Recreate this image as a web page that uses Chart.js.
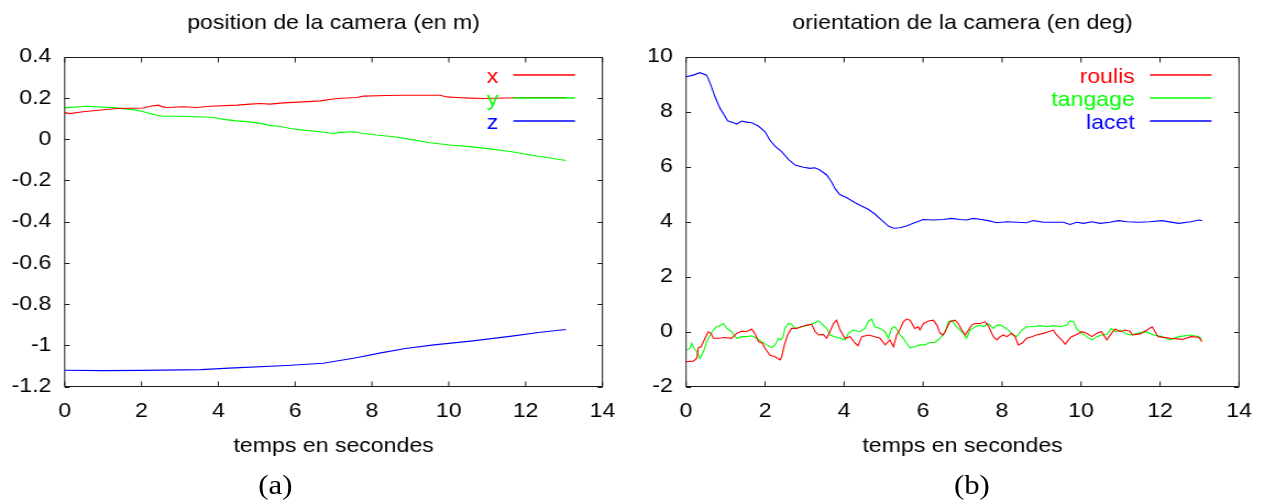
<!DOCTYPE html>
<html>
<head>
<meta charset="utf-8">
<script src="https://cdn.jsdelivr.net/npm/chart.js@4.4.1/dist/chart.umd.min.js"></script>
<style>
  html, body { margin:0; padding:0; background:#fff; overflow:hidden; width:1269px; height:504px; }
  #wrap { position:absolute; left:0; top:0; width:1154px; height:504px; transform:scaleX(1.1); transform-origin:0 0; }
  .box { position:absolute; top:0; height:504px; }
  #boxA { left:0; width:590px; }
  #boxB { left:590px; width:564px; }
  .cap { position:absolute; top:471px; font-family:"Liberation Serif", "Times New Roman", serif; font-size:28px; line-height:28px; color:#000; transform:translateX(-50%); white-space:nowrap; }
</style>
</head>
<body>
<div id="wrap">
  <div class="box" id="boxA"><canvas id="cA"></canvas></div>
  <div class="box" id="boxB"><canvas id="cB"></canvas></div>
  <div class="cap" style="left:250.3px">(a)</div>
  <div class="cap" style="left:883.5px">(b)</div>
</div>
<script>
// ---------- data ----------
const X_TICKS = [0, 2, 4, 6, 8, 10, 12, 14];
const Y_TICKS_A = [-1.2, -1, -0.8, -0.6, -0.4, -0.2, 0, 0.2, 0.4];
const Y_TICKS_B = [-2, 0, 2, 4, 6, 8, 10];

const TITLE_A = 'position de la camera (en m)';
const TITLE_B = 'orientation de la camera (en deg)';
const X_LABEL = 'temps en secondes';

// position (m)
const posX_t = [0, .13, .48, 1.35, 2.05, 2.22, 2.44, 2.53, 2.66, 3.09, 3.44, 3.79, 4.49, 4.83, 5.09, 5.35, 5.69, 6.21, 6.65, 7.08, 7.6, 7.78, 8.38, 8.82, 9.51, 9.77, 9.95, 10.2, 10.55, 10.9, 11.5, 12.17, 13.05];
const posX_v = [.129, .124, .133, .149, .151, .16, .165, .158, .154, .157, .154, .16, .165, .17, .173, .170, .176, .181, .186, .197, .202, .209, .212, .213, .213, .213, .205, .202, .199, .197, .2, .202, .202];

const posY_t = [0, .56, 1.35, 1.87, 2.05, 2.22, 2.4, 2.57, 3.09, 3.61, 3.87, 4.13, 4.48, 4.83, 5.18, 5.35, 5.6, 5.87, 6.21, 6.65, 7.0, 7.17, 7.52, 7.78, 8.12, 8.56, 9.0, 9.51, 10.03, 10.55, 11.07, 11.64, 12.17, 13.05];
const posY_v = [.152, .16, .152, .141, .133, .124, .116, .111, .111, .108, .105, .096, .089, .084, .073, .066, .063, .052, .044, .036, .028, .033, .036, .028, .02, .012, -.001, -.017, -.028, -.036, -.047, -.061, -.078, -.103];

const posZ_t = [0, .98, 2.05, 3.54, 4.28, 5.78, 6.73, 7.59, 8.23, 8.87, 9.61, 10.57, 11.64, 12.38, 13.05];
const posZ_v = [-1.12, -1.122, -1.121, -1.117, -1.11, -1.097, -1.086, -1.06, -1.036, -1.015, -0.997, -0.979, -0.955, -0.936, -0.923];

// orientation (deg)
const roulis_t = [
  0, .18, .27, .31, .38, .48, .56, .63, .69, .82,
  .98, 1.15, 1.28, 1.41, 1.53, 1.66, 1.74, 1.83, 1.93, 2.0,
  2.12, 2.25, 2.38, 2.42, 2.49, 2.57, 2.67, 2.8, 2.92, 3.05,
  3.18, 3.26, 3.35, 3.47, 3.56, 3.64, 3.73, 3.81, 3.9, 4.02,
  4.15, 4.28, 4.35, 4.45, 4.62, 4.78, 4.91, 5.04, 5.16, 5.25,
  5.33, 5.42, 5.5, 5.58, 5.67, 5.79, 5.88, 5.92, 6.01, 6.14,
  6.26, 6.35, 6.43, 6.51, 6.6, 6.68, 6.81, 6.89, 6.98, 7.07,
  7.15, 7.23, 7.32, 7.44, 7.57, 7.65, 7.78, 7.87, 7.95, 8.03,
  8.12, 8.24, 8.33, 8.41, 8.5, 8.62, 8.75, 8.87, 9.04, 9.17,
  9.3, 9.38, 9.51, 9.6, 9.68, 9.76, 9.89, 10.02, 10.14, 10.27,
  10.4, 10.52, 10.65, 10.77, 10.86, 10.99, 11.11, 11.24, 11.3, 11.5,
  11.8, 11.95, 12.26, 12.57, 12.78, 12.98, 13.06];
const roulis_v = [
  -1.09, -1.07, -0.97, -0.58, -0.55, -0.24, 0, -0.06, -0.24, -0.24,
  -0.21, -0.24, -0.06, 0.02, 0, 0.1, -0.06, -0.36, -0.42, -0.61,
  -0.85, -0.91, -1.03, -0.91, -0.48, -0.12, 0.12, 0.12, 0.18, 0.24,
  0.27, 0.02, -0.12, -0.1, -0.24, 0, 0.3, 0.42, 0.06, -0.24,
  -0.18, -0.42, -0.51, -0.18, -0.12, -0.18, -0.24, -0.48, -0.3, -0.55,
  -0.12, 0.1, 0.36, 0.46, 0.42, 0.12, 0.18, 0.06, 0.3, 0.39,
  0.42, 0.24, -0.06, -0.12, 0.12, 0.36, 0.42, 0.3, 0.06, -0.12,
  0.06, 0.24, 0.3, 0.3, 0.36, 0.22, -0.18, -0.3, -0.18, -0.12,
  -0.18, -0.06, -0.18, -0.48, -0.42, -0.24, -0.18, -0.12, -0.06, 0,
  0.06, -0.12, -0.3, -0.46, -0.3, -0.18, -0.1, 0, -0.06, -0.18,
  -0.06, 0, -0.3, -0.06, 0.1, 0, 0.06, 0.02, -0.12, -0.08,
  0.18, -0.18, -0.24, -0.28, -0.18, -0.2, -0.36];

const tangage_t = [
  0, .1, .14, .21, .27, .35, .44, .52, .61, .69,
  .77, .86, .94, 1.03, 1.15, 1.28, 1.41, 1.53, 1.66, 1.79,
  1.91, 2.04, 2.17, 2.25, 2.34, 2.4, 2.46, 2.5, 2.59, 2.67,
  2.76, 2.92, 3.09, 3.22, 3.35, 3.47, 3.56, 3.64, 3.77, 3.9,
  4.02, 4.11, 4.23, 4.4, 4.53, 4.62, 4.7, 4.78, 4.91, 5.04,
  5.12, 5.2, 5.29, 5.42, 5.5, 5.58, 5.67, 5.79, 5.92, 6.04,
  6.17, 6.3, 6.43, 6.56, 6.64, 6.73, 6.81, 6.89, 7.02, 7.1,
  7.19, 7.32, 7.44, 7.53, 7.65, 7.78, 7.87, 7.95, 8.03, 8.16,
  8.28, 8.37, 8.5, 8.62, 8.79, 8.96, 9.13, 9.3, 9.47, 9.64,
  9.72, 9.81, 9.89, 10.02, 10.14, 10.27, 10.4, 10.52, 10.65, 10.77,
  10.86, 10.99, 11.11, 11.24, 11.43, 11.64, 11.84, 12.05, 12.26, 12.47,
  12.78, 12.98, 13.06];
const tangage_v = [
  -0.67, -0.61, -0.42, -0.61, -0.73, -0.97, -0.73, -0.36, -0.12, 0.06,
  0.18, 0.22, 0.3, 0.12, 0, -0.24, -0.18, -0.18, -0.15, -0.24,
  -0.36, -0.48, -0.58, -0.48, -0.24, -0.3, -0.18, 0.12, 0.3, 0.27,
  0.12, 0.18, 0.24, 0.3, 0.39, 0.24, 0.12, -0.12, -0.18, -0.24,
  -0.3, -0.06, 0.06, 0, 0.12, 0.39, 0.46, 0.18, 0.12, 0,
  -0.24, 0.12, 0.18, -0.12, -0.24, -0.42, -0.58, -0.55, -0.48, -0.48,
  -0.39, -0.39, -0.24, 0, 0.36, 0.42, 0.24, 0.12, -0.06, -0.24,
  0.06, 0.18, 0.24, 0.18, 0.3, 0.12, 0.24, 0.24, 0.18, 0.06,
  -0.12, -0.18, 0.06, 0.18, 0.18, 0.22, 0.18, 0.22, 0.18, 0.24,
  0.39, 0.36, 0.1, -0.06, -0.18, -0.3, -0.18, -0.12, -0.1, 0.12,
  0, 0.06, -0.06, -0.12, -0.06, 0, -0.12, -0.18, -0.3, -0.18,
  -0.12, -0.18, -0.28];

const lacet_t = [
  0, .18, .35, .52, .61, .73, .86, .94, 1.05, 1.2,
  1.28, 1.41, 1.49, 1.66, 1.83, 2.0, 2.12, 2.25, 2.42, 2.59,
  2.76, 2.97, 3.14, 3.26, 3.39, 3.56, 3.68, 3.77, 3.89, 4.06,
  4.28, 4.44, 4.61, 4.78, 4.95, 5.12, 5.25, 5.41, 5.58, 5.75,
  6.0, 6.26, 6.51, 6.72, 6.93, 7.1, 7.27, 7.48, 7.65, 7.86,
  8.12, 8.37, 8.62, 8.79, 9.05, 9.3, 9.55, 9.72, 9.89, 10.06,
  10.27, 10.48, 10.73, 10.95, 11.16, 11.45, 11.74, 12.05, 12.47, 12.78,
  12.98, 13.06];
const lacet_v = [
  9.27, 9.33, 9.42, 9.33, 9.03, 8.55, 8.12, 7.94, 7.67, 7.6,
  7.55, 7.66, 7.63, 7.6, 7.48, 7.27, 6.97, 6.75, 6.55, 6.27,
  6.06, 5.98, 5.94, 5.96, 5.88, 5.7, 5.45, 5.21, 4.99, 4.88,
  4.69, 4.57, 4.45, 4.28, 4.06, 3.84, 3.76, 3.78, 3.84, 3.94,
  4.08, 4.06, 4.08, 4.12, 4.08, 4.06, 4.12, 4.08, 4.04, 3.96,
  4.0, 3.98, 3.96, 4.04, 3.98, 3.98, 3.98, 3.9, 3.98, 3.94,
  4.0, 3.94, 3.98, 4.04, 4.0, 3.98, 4.0, 4.04, 3.94, 4.0,
  4.06, 4.04];

const NAMES_A = ['x', 'y', 'z'];
const NAMES_B = ['roulis', 'tangage', 'lacet'];

// ---------- rendering ----------
const FONT = '"Liberation Sans", Arial, Helvetica, sans-serif';
const COLORS = ['#ff0000', '#00ff00', '#0000ff'];

function pts(t, v) {
  const n = Math.min(t.length, v.length), out = [];
  for (let i = 0; i < n; i++) out.push({ x: t[i], y: v[i] });
  return out;
}
function ds(label, t, v, color) {
  return { label, data: pts(t, v), borderColor: color, backgroundColor: color, borderWidth: 1.1, pointRadius: 0, tension: 0, fill: false };
}

const framePlugin = {
  id: 'gnuframe',
  afterDatasetsDraw(chart) {
    const { ctx, chartArea: a, scales: { x, y } } = chart;
    ctx.save();
    ctx.setLineDash([]);
    ctx.strokeStyle = '#1a1a1a';
    ctx.lineWidth = 1;
    const T = Math.round(a.top) + 0.5, B = Math.round(a.bottom) - 0.5;
    ctx.beginPath();
    ctx.rect(a.left, T, a.right - a.left, B - T);
    for (const tk of x.ticks) {
      const p = x.getPixelForValue(tk.value);
      ctx.moveTo(p, B); ctx.lineTo(p, B - 5);
      ctx.moveTo(p, T); ctx.lineTo(p, T + 5);
    }
    for (const tk of y.ticks) {
      const p = Math.round(y.getPixelForValue(tk.value)) + 0.5;
      ctx.moveTo(a.left, p); ctx.lineTo(a.left + 4.5, p);
      ctx.moveTo(a.right, p); ctx.lineTo(a.right - 4.5, p);
    }
    ctx.stroke();
    ctx.restore();

    // gnuplot-style key: label (right aligned) then line sample
    chart.data.datasets.forEach((d, i) => {
      const col = COLORS[i];
      const yy = Math.round(a.top + 17.8 + i * 23.4);
      ctx.save();
      ctx.font = '21px ' + FONT;
      ctx.textAlign = 'right';
      ctx.textBaseline = 'alphabetic';
      ctx.fillStyle = col;
      ctx.fillText(d.label, a.right - 94.8, yy + 8);
      ctx.strokeStyle = col;
      ctx.lineWidth = 1.4;
      ctx.beginPath();
      ctx.moveTo(a.right - 81, yy);
      ctx.lineTo(a.right - 25, yy);
      ctx.stroke();
      ctx.restore();
    });
  }
};

function makeChart(id, datasets, yTicks, yWidth, padRight, title) {
  return new Chart(document.getElementById(id), {
    type: 'line',
    data: { datasets },
    options: {
      responsive: true,
      maintainAspectRatio: false,
      animation: false,
      layout: { padding: { left: 0, right: padRight, top: 0, bottom: 0 } },
      plugins: {
        legend: { display: false },
        tooltip: { enabled: false },
        title: {
          display: true, text: title, fullSize: false, color: '#000',
          font: { family: FONT, size: 21, weight: 'normal' },
          padding: { top: 10.9, bottom: 20.6 }
        }
      },
      scales: {
        x: {
          type: 'linear', min: X_TICKS[0], max: X_TICKS[X_TICKS.length - 1],
          afterBuildTicks: s => { s.ticks = X_TICKS.map(v => ({ value: v })); },
          afterFit: s => { s.height = 117.3; },
          grid: { display: false, drawTicks: false },
          border: { display: false },
          ticks: { color: '#000', font: { family: FONT, size: 21 }, padding: 11.7, maxRotation: 0, autoSkip: false,
                   callback: v => String(+(+v).toFixed(2)) },
          title: { display: true, text: X_LABEL, color: '#000', font: { family: FONT, size: 21 }, padding: { top: 0, bottom: 45.4 } }
        },
        y: {
          type: 'linear', min: yTicks[0], max: yTicks[yTicks.length - 1],
          afterBuildTicks: s => { s.ticks = yTicks.map(v => ({ value: v })); },
          afterFit: s => { s.width = yWidth; },
          grid: { display: false, drawTicks: false },
          border: { display: false },
          ticks: { color: '#000', font: { family: FONT, size: 21 }, padding: 12, autoSkip: false,
                   callback: v => String(+(+v).toFixed(2)) }
        }
      }
    },
    plugins: [framePlugin]
  });
}

makeChart('cA', [
  ds(NAMES_A[0], posX_t, posX_v, COLORS[0]),
  ds(NAMES_A[1], posY_t, posY_v, COLORS[1]),
  ds(NAMES_A[2], posZ_t, posZ_v, COLORS[2])
], Y_TICKS_A, 58.8, 42.3, TITLE_A);

makeChart('cB', [
  ds(NAMES_B[0], roulis_t, roulis_v, COLORS[0]),
  ds(NAMES_B[1], tangage_t, tangage_v, COLORS[1]),
  ds(NAMES_B[2], lacet_t, lacet_v, COLORS[2])
], Y_TICKS_B, 33.7, 27.6, TITLE_B);
</script>
</body>
</html>
